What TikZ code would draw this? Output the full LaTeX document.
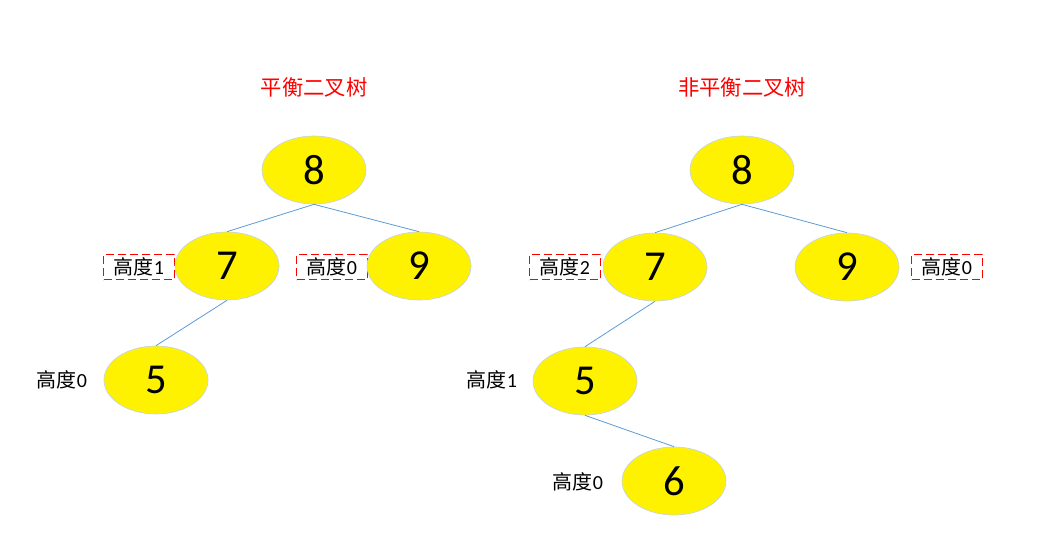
\documentclass[tikz,border=0pt]{standalone}
\usepackage{fontspec}
\setmainfont{Carlito}
\newfontfamily\cjk{Noto Sans CJK SC}
\usetikzlibrary{shapes.geometric}
\definecolor{edgeblue}{HTML}{5B9BD5}
\definecolor{rimblue}{HTML}{C5D3E6}
\begin{document}
\begin{tikzpicture}[x=0.75pt,y=-0.75pt,
	knot/.style={ellipse,fill=yellow,draw=rimblue,line width=0.5pt,minimum width=78pt,minimum height=51pt,inner sep=0pt,font=\fontsize{32}{32}\selectfont},
	tag/.style={font=\fontsize{15}{15}\selectfont},
	tagbox/.style={tag,draw=red,dashed,dash pattern=on 6pt off 3pt,line width=0.6pt,minimum width=53pt,minimum height=19pt,inner sep=0pt},
	title/.style={text=red,font=\fontsize{16}{16}\selectfont\cjk},
	branch/.style={draw=edgeblue,line width=0.6pt}]
	\useasboundingbox (0,0) rectangle (1063,539);
	% left tree
	\node[title] (tl) at (314,87) {平衡二叉树};
	\node[tagbox] (hl7) at (139,267) {{\cjk 高度}1};
	\node[tagbox] (hl9) at (332,267) {{\cjk 高度}0};
	\node[tag] (hl5) at (62,380) {{\cjk 高度}0};
	\node[knot] (l8) at (314,170) {8};
	\node[knot] (l7) at (227,266) {7};
	\node[knot] (l9) at (419,266) {9};
	\node[knot] (l5) at (156,380) {5};
	\draw[branch] (l8.south)--(l7.north);
	\draw[branch] (l8.south)--(l9.north);
	\draw[branch] (l7.south)--(l5.north);
	% right tree
	\node[title] (tr) at (742,87) {非平衡二叉树};
	\node[tagbox] (hr7) at (565,267) {{\cjk 高度}2};
	\node[tagbox] (hr9) at (947,267) {{\cjk 高度}0};
	\node[tag] (hr5) at (492,380) {{\cjk 高度}1};
	\node[tag] (hr6) at (578,482) {{\cjk 高度}0};
	\node[knot] (r8) at (742,170) {8};
	\node[knot] (r7) at (655,267) {7};
	\node[knot] (r9) at (847,267) {9};
	\node[knot] (r5) at (585,381) {5};
	\node[knot] (r6) at (674,481) {6};
	\draw[branch] (r8.south)--(r7.north);
	\draw[branch] (r8.south)--(r9.north);
	\draw[branch] (r7.south)--(r5.north);
	\draw[branch] (r5.south)--(r6.north);
\end{tikzpicture}
\end{document}
